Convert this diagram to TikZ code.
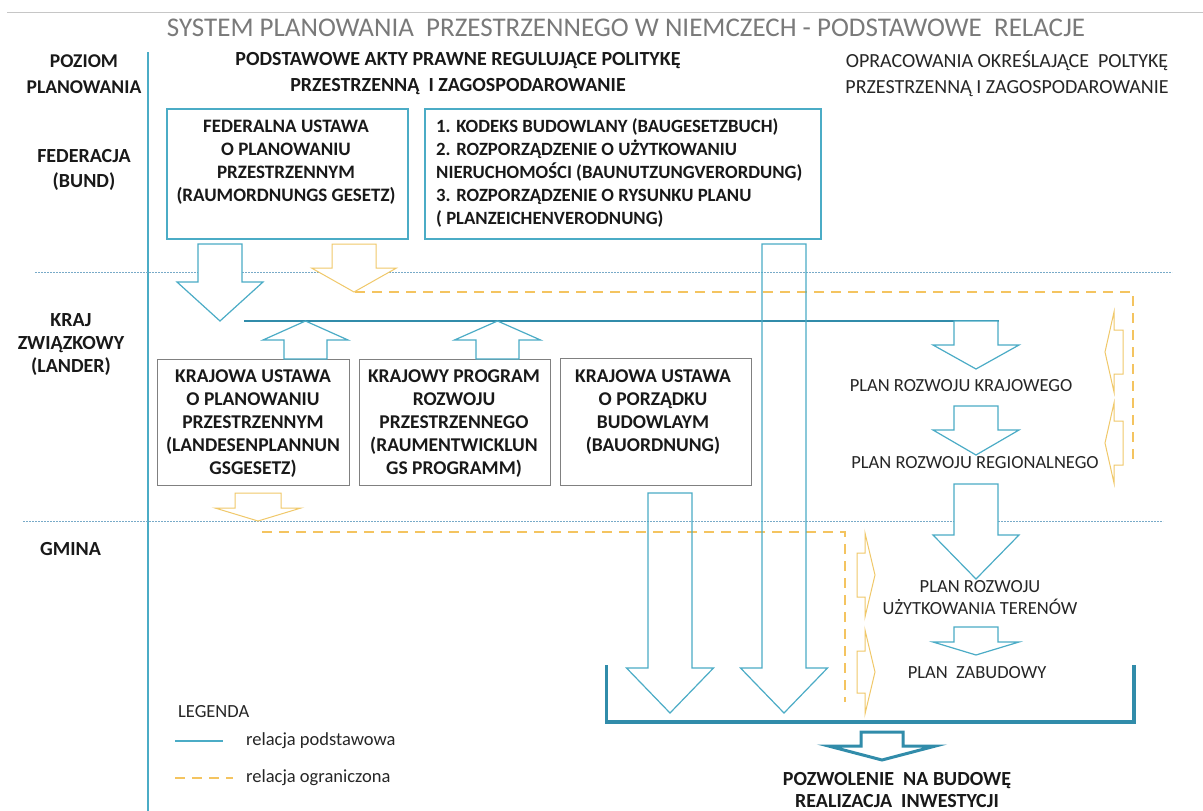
\documentclass[tikz,border=0pt]{standalone}
\usepackage{fontspec}
\setmainfont{Carlito}
\definecolor{tealb}{RGB}{75,172,198}
\definecolor{tealdk}{RGB}{49,140,170}
\definecolor{gold}{RGB}{244,196,96}
\definecolor{goldl}{RGB}{240,200,105}
\definecolor{titlegray}{RGB}{122,122,122}
\definecolor{boxgray}{RGB}{128,128,128}
\definecolor{sepblue}{RGB}{120,170,200}
\newcommand\blockdown[7][]{%
  \draw[#1] ({#2-#3},#5) -- ({#2-#3},#6) -- ({#2-#4},#6) -- (#2,#7) -- ({#2+#4},#6) -- ({#2+#3},#6) -- ({#2+#3},#5) -- cycle;}
\newcommand\blockside[7][]{%
  \draw[#1] (#5,{#2-#3}) -- (#6,{#2-#3}) -- (#6,{#2-#4}) -- (#7,#2) -- (#6,{#2+#4}) -- (#6,{#2+#3}) -- (#5,{#2+#3}) -- cycle;}
\tikzset{
  bluebox/.style={draw=tealb, line width=1.4pt, inner sep=0pt},
  graybox/.style={draw=boxgray, line width=1pt, inner sep=0pt},
  btxt/.style={font=\bfseries\fontsize{19}{23}\selectfont, align=center, inner sep=0pt, text=black!90},
  rtxt/.style={font=\fontsize{18.5}{22}\selectfont, align=center, inner sep=0pt, text=black!85},
  barrow/.style={draw=tealb, line width=1.2pt, fill=white},
  yarrow/.style={draw=goldl, line width=1pt, fill=white},
  yarrowside/.style={draw=goldl, line width=1pt},
  ydash/.style={draw=gold, line width=2.6pt, dash pattern=on 10pt off 7pt},
  sep/.style={draw=sepblue, line width=1pt, dash pattern=on 1.6pt off 1.4pt},
}
\begin{document}
\begin{tikzpicture}[x=1pt, y=-1pt]
\useasboundingbox[fill=white] (0,0) rectangle (1203,811);
% top rule and title
\draw[gray!45, line width=0.8pt] (7,12) -- (1203,12);
\node[font=\fontsize{27}{30}\selectfont, text=titlegray, inner sep=0pt] (title) at (626,28) {SYSTEM PLANOWANIA\ \ PRZESTRZENNEGO W NIEMCZECH - PODSTAWOWE\ \ RELACJE};
% vertical level separator
\draw[tealb, line width=1.2pt] (148,52) -- (148,811);
% horizontal separators
\draw[sep] (35,272) -- (1172,272);
\draw[sep] (23,521) -- (1163,521);
% headers
\node[btxt, font=\bfseries\fontsize{19.5}{26}\selectfont] (hpoz) at (84,74) {POZIOM\\PLANOWANIA};
\node[btxt, font=\bfseries\fontsize{20}{26}\selectfont] (hakty) at (458,74) {PODSTAWOWE AKTY PRAWNE REGULUJĄCE POLITYKĘ\\PRZESTRZENNĄ\ \ I ZAGOSPODAROWANIE};
\node[rtxt, font=\fontsize{20}{26}\selectfont] (hopr) at (1007,74) {OPRACOWANIA OKREŚLAJĄCE\ \ POLTYKĘ\\PRZESTRZENNĄ I ZAGOSPODAROWANIE};
% level labels
\node[btxt, font=\bfseries\fontsize{20}{25}\selectfont] (lfed) at (84,170) {FEDERACJA\\(BUND)};
\node[btxt, font=\bfseries\fontsize{20}{23}\selectfont] (lkraj) at (71,345) {KRAJ\\ZWIĄZKOWY\\(LANDER)};
\node[btxt, font=\bfseries\fontsize{20}{23}\selectfont] (lgmina) at (70.5,549) {GMINA};
% federal boxes
\node[bluebox, minimum width=241pt, minimum height=130pt] (fed) at (287.5,174) {};
\node[btxt] (fedtxt) at (286,162) {FEDERALNA USTAWA\\O PLANOWANIU\\PRZESTRZENNYM\\(RAUMORDNUNGS GESETZ)};
\node[bluebox, minimum width=396pt, minimum height=130pt] (kod) at (623,174) {};
\node[btxt, font=\bfseries\fontsize{18.7}{23}\selectfont, align=left, anchor=west] (kodtxt) at (436,173) {1. KODEKS BUDOWLANY (BAUGESETZBUCH)\\2. ROZPORZĄDZENIE O UŻYTKOWANIU\\NIERUCHOMOŚCI (BAUNUTZUNGVERORDUNG)\\3. ROZPORZĄDZENIE O RYSUNKU PLANU\\( PLANZEICHENVERODNUNG)};
% lander boxes
\node[graybox, minimum width=192pt, minimum height=126pt] (k1) at (253,422) {};
\node[btxt, font=\bfseries\fontsize{19.5}{23}\selectfont] (k1txt) at (253,424) {KRAJOWA USTAWA\\O PLANOWANIU\\PRZESTRZENNYM\\(LANDESENPLANNUN\\GSGESETZ)};
\node[graybox, minimum width=191pt, minimum height=126pt] (k2) at (454.5,422) {};
\node[btxt, font=\bfseries\fontsize{19.5}{23}\selectfont] (k2txt) at (454,424) {KRAJOWY PROGRAM\\ROZWOJU\\PRZESTRZENNEGO\\(RAUMENTWICKLUN\\GS PROGRAMM)};
\node[graybox, minimum width=191pt, minimum height=127pt] (k3) at (655.5,421.5) {};
\node[btxt, font=\bfseries\fontsize{19.5}{23}\selectfont] (k3txt) at (653,412.5) {KRAJOWA USTAWA\\O PORZĄDKU\\BUDOWLAYM\\(BAUORDNUNG)};
% yellow limited relations
\draw[ydash] (355,292) -- (1133,292) -- (1133,466);
\draw[ydash] (262,532) -- (845,532) -- (845,702);
\blockdown[yarrow]{354}{22}{42.5}{244}{268}{292}
\blockdown[yarrow]{258}{23}{43}{493}{508}{521}
\blockside[yarrowside]{352}{22}{40}{1123}{1114}{1105}
\blockside[yarrowside]{443}{22}{40}{1123}{1114}{1105}
\blockside[yarrowside]{575}{22}{42}{857}{865}{875}
\blockside[yarrowside]{672}{21}{42}{857}{865}{875}
% basic relations
\blockdown[barrow]{220}{22}{43}{244}{282}{321}
\draw[tealdk, line width=2.2pt] (244,321) -- (999,321);
\blockdown[barrow]{305.5}{21.5}{42.5}{359}{340}{321}
\blockdown[barrow]{497.5}{21.5}{43}{359}{340}{321}
\blockdown[barrow, fill=none]{784}{22}{43.5}{244}{668}{713}
\blockdown[barrow, fill=none]{670}{22}{43.5}{493}{668}{713}
\blockdown[barrow]{976}{22}{43}{321}{345}{369}
\blockdown[barrow]{976}{22}{43}{406}{430}{455}
\blockdown[barrow]{976}{22}{43}{484}{535}{579}
\blockdown[barrow]{976}{22}{43}{627}{642}{655}
% right column plans
\node[rtxt] (pkraj) at (961,386) {PLAN ROZWOJU KRAJOWEGO};
\node[rtxt] (preg) at (975,463) {PLAN ROZWOJU REGIONALNEGO};
\node[rtxt] (puzyt) at (980,598) {PLAN ROZWOJU\\UŻYTKOWANIA TERENÓW};
\node[rtxt] (pzab) at (977,673) {PLAN\ \ ZABUDOWY};
% bracket and final arrow
\draw[tealdk, line width=3.2pt] (606.5,665) -- (606.5,722) -- (1134,722) -- (1134,665);
\blockdown[barrow, draw=tealdk, line width=3pt]{882}{21}{53.5}{732}{746}{760}
\node[btxt, font=\bfseries\fontsize{20}{22}\selectfont] (final) at (897,790) {POZWOLENIE\ \ NA BUDOWĘ\\REALIZACJA\ \ INWESTYCJI};
% legend
\node[rtxt, anchor=west] (leg) at (178,712) {LEGENDA};
\draw[tealb, line width=1.6pt] (175,741) -- (223,741);
\node[rtxt, anchor=west] (leg1) at (246,741) {relacja podstawowa};
\draw[ydash, line width=2.2pt] (175,778) -- (233,778);
\node[rtxt, anchor=west] (leg2) at (246,778) {relacja ograniczona};
\end{tikzpicture}
\end{document}
